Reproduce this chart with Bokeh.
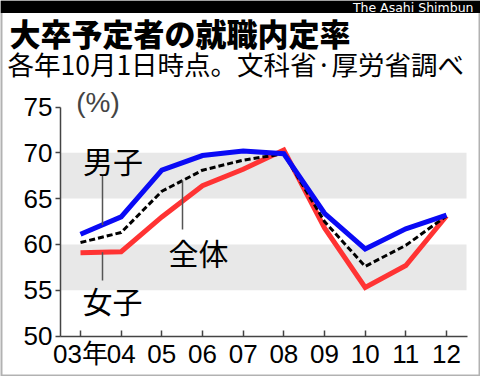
from bokeh.plotting import figure
from bokeh.models import BoxAnnotation, Label, FixedTicker, Range1d, LinearAxis
from bokeh.embed import file_html
from bokeh.resources import INLINE
import numpy as np

# ---- data ----
years = [2003, 2004, 2005, 2006, 2007, 2008, 2009, 2010, 2011, 2012]
year_labels = ["03年", "04", "05", "06", "07", "08", "09", "10", "11", "12"]
male = [61.1, 63.0, 68.1, 69.7, 70.2, 69.9, 63.4, 59.5, 61.7, 63.2]
total = [60.2, 61.3, 65.8, 68.1, 69.2, 69.9, 62.5, 57.6, 59.9, 63.1]
female = [59.1, 59.2, 63.0, 66.4, 68.2, 70.3, 61.8, 55.3, 57.7, 63.1]
y_ticks = [50, 55, 60, 65, 70, 75]
band_lows = [55, 65]
band_highs = [60, 70]

title_text = "大卒予定者の就職内定率"
subtitle_text = "各年10月1日時点。文科省·厚労省調べ"
credit_text = "The Asahi Shimbun"
unit_text = "(%)"
series_names = ["男子", "全体", "女子"]

RED = "#FF3333"
BLUE = "#0A0AF5"
NUM_FONT = "'Liberation Sans', 'Noto Sans CJK JP'"
JP_FONT = "Noto Sans CJK JP"
JP_HEAVY = "'Noto Sans CJK JP Black', 'Noto Sans CJK JP'"

W, H = 480, 376
# pixel <-> data mapping of the full-canvas frame
PX_PER_YEAR = 40.667
PX_PER_PCT = 9.16
X_START = 2003 - 80 / PX_PER_YEAR
Y_TOP = 75 + 106.5 / PX_PER_PCT


def dx(px):
    return X_START + px / PX_PER_YEAR


def dy(py):
    return Y_TOP - py / PX_PER_PCT


p = figure(width=W, height=H, output_backend="svg", toolbar_location=None,
           x_range=Range1d(dx(0), dx(W)), y_range=Range1d(dy(H), dy(0)),
           x_axis_location=None, y_axis_location=None,
           min_border=0, min_border_left=0, min_border_right=0,
           min_border_top=0, min_border_bottom=0)
p.outline_line_color = None
p.grid.visible = False
p.background_fill_color = "white"
p.border_fill_color = "white"

x_lo, x_hi = dx(60), dx(467)

for lo, hi in zip(band_lows, band_highs):
    p.add_layout(BoxAnnotation(left=x_lo, right=dx(466), bottom=lo, top=hi,
                               fill_color="#E8E8E8", fill_alpha=1, line_color=None,
                               level="underlay"))

xaxis = LinearAxis(fixed_location=50, bounds=(x_lo, x_hi))
yaxis = LinearAxis(fixed_location=x_lo, bounds=(50, 75))
for ax in (xaxis, yaxis):
    ax.axis_line_color = "#444444"
    ax.axis_line_width = 1.5
    ax.major_tick_line_color = "#444444"
    ax.major_tick_line_width = 1.5
    ax.minor_tick_line_color = None
    ax.major_label_text_color = "black"
    ax.major_label_text_font = NUM_FONT
    ax.major_label_text_font_size = "26px"

xaxis.ticker = FixedTicker(ticks=years)
xaxis.major_label_overrides = {y: l for y, l in zip(years, year_labels)}
xaxis.major_tick_in = 6
xaxis.major_tick_out = 0
xaxis.major_label_standoff = 3

yaxis.ticker = FixedTicker(ticks=y_ticks)
yaxis.major_tick_in = 0
yaxis.major_tick_out = 5
yaxis.major_label_standoff = 3

p.add_layout(xaxis, "below")
p.add_layout(yaxis, "left")

# lines
p.line(years, female, line_color=RED, line_width=5, line_join="miter")
p.line(years, total, line_color="black", line_width=3, line_dash="6 3")
p.line(years, male, line_color=BLUE, line_width=5, line_join="miter")

# leader lines (from each series to its label)
lx_m, lx_t, lx_f = dx(102), dx(182), dx(102)
p.segment(x0=[lx_m, lx_t, lx_f],
          y0=[float(np.interp(lx_m, years, male)),
              float(np.interp(lx_t, years, total)),
              float(np.interp(lx_f, years, female))],
          x1=[lx_m, lx_t, lx_f], y1=[dy(175), dy(229), dy(280)],
          line_color="#555555", line_width=1.5)

for name, px, py in zip(series_names, [112.5, 198, 112], [159, 251.5, 299]):
    p.add_layout(Label(x=dx(px), y=dy(py), text=name, text_font=JP_FONT,
                       text_font_size="30px", text_align="center",
                       text_baseline="middle", text_color="black"))

p.add_layout(Label(x=dx(97.5), y=dy(101.5), text=unit_text, text_font="Liberation Sans",
                   text_font_size="28px", text_align="center", text_baseline="middle"))

# header bar, frame border and titles
p.add_layout(BoxAnnotation(bottom=dy(12.5), fill_color="black", fill_alpha=1,
                           line_color=None, level="overlay"))
p.add_layout(BoxAnnotation(fill_color=None, fill_alpha=0, line_color="black",
                           line_width=4, level="overlay"))
p.add_layout(Label(x=dx(473), y=dy(7), text=credit_text, level="overlay",
                   text_font="DejaVu Sans", text_font_size="12.5px", text_color="white",
                   text_align="right", text_baseline="middle"))
p.add_layout(Label(x=dx(9), y=dy(31.5), text=title_text,
                   text_font=JP_HEAVY, text_font_style="bold", text_font_size="31px",
                   text_align="left", text_baseline="middle", text_color="black"))
p.add_layout(Label(x=dx(7), y=dy(63), text=subtitle_text,
                   text_font=JP_FONT, text_font_size="26.5px",
                   text_align="left", text_baseline="middle", text_color="black"))

open("out.html", "w").write(file_html(p, INLINE))
